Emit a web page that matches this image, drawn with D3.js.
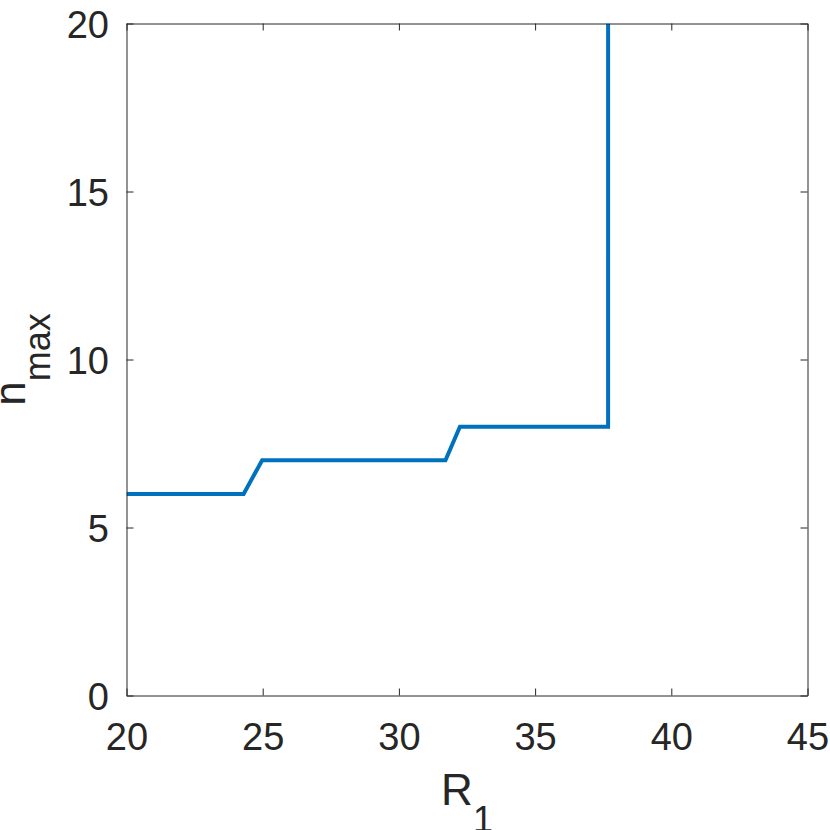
<!DOCTYPE html>
<html><head><meta charset="utf-8">
<script src="https://cdn.jsdelivr.net/npm/d3@7"></script>
<style>body{margin:0;background:#fff}svg{display:block}text{font-family:"Liberation Sans",Arial,sans-serif;fill:#262626}</style>
</head><body>
<script>
const r1Values = [20, 24.3, 24.98, 31.71, 32.24, 37.68, 37.68];
const nmaxValues = [6, 6, 7, 7, 8, 8, 20];
const xTicks = [20, 25, 30, 35, 40, 45];
const yTicks = [0, 5, 10, 15, 20];

const W = 830, H = 830;
const m = {l: 126.5, r: 807.5, t: 23.5, b: 695.5};
const svg = d3.select("body").append("svg").attr("width", W).attr("height", H);
const x = d3.scaleLinear().domain([20, 45]).range([m.l, m.r]);
const y = d3.scaleLinear().domain([0, 20]).range([m.b, m.t]);
const axCol = "#262626";

svg.append("defs").append("clipPath").attr("id","clip").append("rect")
  .attr("x", m.l).attr("y", m.t).attr("width", m.r - m.l).attr("height", m.b - m.t);

// data line
const line = d3.line().x((d,i)=>x(r1Values[i])).y((d,i)=>y(nmaxValues[i]));
svg.append("path").datum(r1Values).attr("d", line)
  .attr("fill","none").attr("stroke","#0072BD").attr("stroke-width",4)
  .attr("stroke-linejoin","miter").attr("clip-path","url(#clip)");

// axes (ticks inward)
const tl = 7;
const axB = d3.axisBottom(x).tickValues(xTicks).tickSizeInner(-tl).tickSizeOuter(0).tickPadding(27);
const axT = d3.axisTop(x).tickValues(xTicks).tickSizeInner(-tl).tickSizeOuter(0).tickFormat("");
const axL = d3.axisLeft(y).tickValues(yTicks).tickSizeInner(-tl).tickSizeOuter(0).tickPadding(17);
const axR = d3.axisRight(y).tickValues(yTicks).tickSizeInner(-tl).tickSizeOuter(0).tickFormat("");

function style(g){
  g.selectAll("path").attr("stroke", axCol).attr("stroke-width",1);
  g.selectAll("line").attr("stroke", axCol).attr("stroke-width",1);
  g.selectAll("text").attr("fill", axCol).style("font-size","38px").attr("font-family","Liberation Sans, Arial, sans-serif");
}
const gb = svg.append("g").attr("transform",`translate(0,${m.b})`).call(axB).call(style);
gb.selectAll("text").attr("dy", null).attr("y", 54.5);
svg.append("g").attr("transform",`translate(0,${m.t})`).call(axT).call(style);
const gl = svg.append("g").attr("transform",`translate(${m.l},0)`).call(axL).call(style);
gl.selectAll("text").attr("x", -17.5).attr("dy","0.36em");
svg.append("g").attr("transform",`translate(${m.r},0)`).call(axR).call(style);

// x label R_1
const xl = svg.append("text").attr("x", (m.l+m.r)/2).attr("y", 805)
  .attr("text-anchor","middle").style("font-size","44px");
xl.append("tspan").text("R");
xl.append("tspan").attr("dy", 27).style("font-size","36px").text("1");

// y label n_max
const yl = svg.append("text").attr("transform",`translate(25,${(m.t+m.b)/2}) rotate(-90)`)
  .attr("text-anchor","middle").style("font-size","44px");
yl.append("tspan").text("n");
yl.append("tspan").attr("dy", 25).style("font-size","36px").text("max");
</script>
</body></html>
